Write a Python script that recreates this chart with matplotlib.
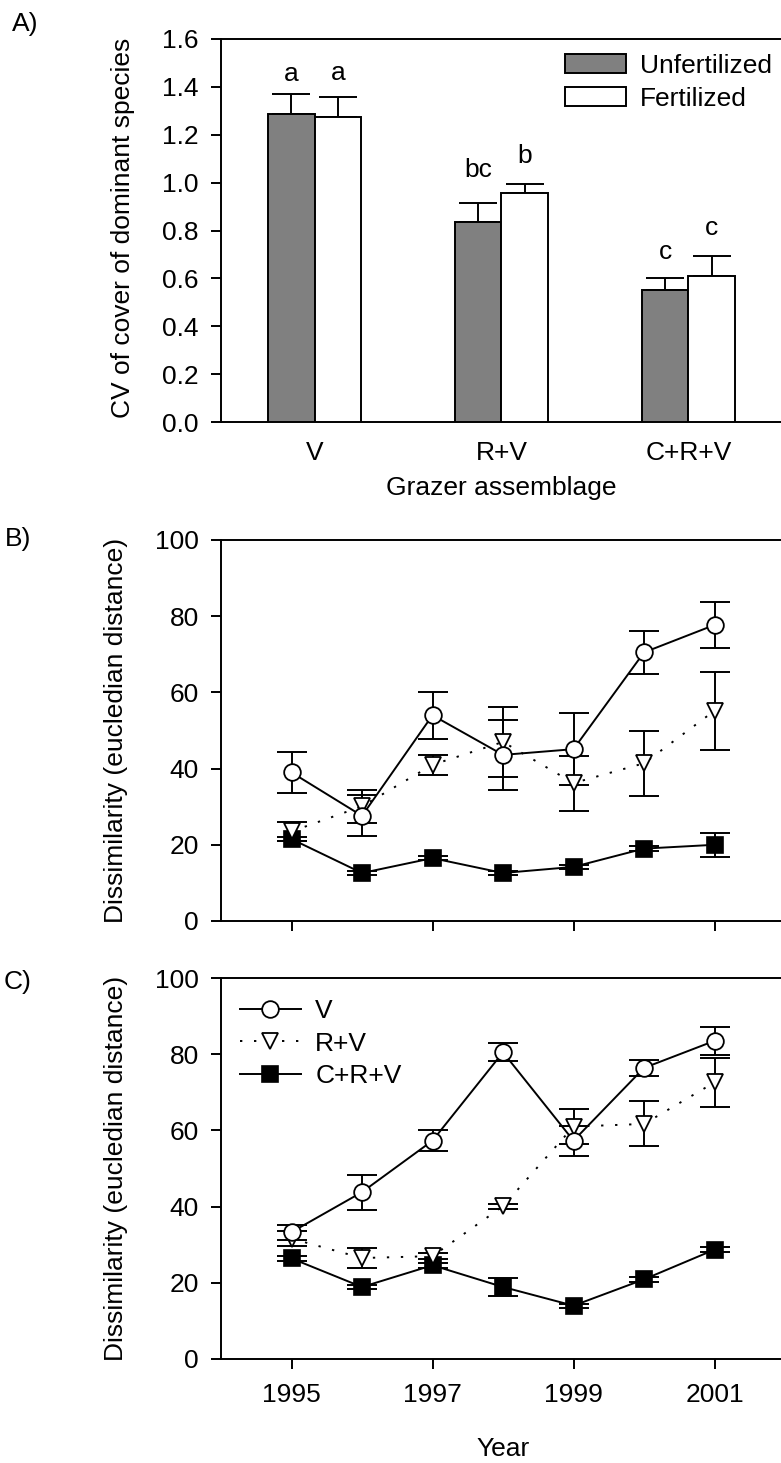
import matplotlib
matplotlib.use("Agg")
import matplotlib.pyplot as plt
import numpy as np
from matplotlib.patches import Patch

FS = 19
plt.rcParams['font.family'] = ['Liberation Sans', 'DejaVu Sans']
plt.rcParams['font.size'] = FS

# ---------------- data ----------------
groups = ["V", "R+V", "C+R+V"]
unfert_mean = [1.287, 0.834, 0.553]
unfert_se = [0.083, 0.079, 0.049]
fert_mean = [1.276, 0.957, 0.612]
fert_se = [0.081, 0.038, 0.083]
unfert_letters = ["a", "bc", "c"]
fert_letters = ["a", "b", "c"]
unfert_letter_y = [1.425, 1.023, 0.681]
fert_letter_y = [1.429, 1.081, 0.782]

years = [1995, 1996, 1997, 1998, 1999, 2000, 2001]

b_V = [39.0, 27.6, 54.0, 43.6, 45.1, 70.5, 77.7]
b_V_se = [5.3, 5.4, 6.2, 9.2, 9.4, 5.7, 6.1]
b_RV = [23.5, 30.1, 41.0, 47.0, 36.2, 41.4, 55.2]
b_RV_se = [2.5, 4.4, 2.7, 9.2, 7.2, 8.5, 10.2]
b_CRV = [21.5, 12.6, 16.5, 12.6, 14.2, 19.0, 20.0]
b_CRV_se = [0.6, 0.5, 0.6, 0.5, 0.6, 0.7, 3.1]

c_V = [33.3, 43.8, 57.3, 80.5, 57.3, 76.4, 83.5]
c_V_se = [2.0, 4.6, 2.8, 2.4, 3.9, 2.0, 3.7]
c_RV = [31.6, 26.5, 27.0, 40.1, 61.0, 61.7, 72.6]
c_RV_se = [2.0, 2.7, 0.8, 0.6, 4.5, 5.9, 6.5]
c_CRV = [26.4, 18.9, 24.6, 18.9, 14.0, 20.9, 28.7]
c_CRV_se = [0.6, 0.6, 0.6, 2.4, 0.5, 0.6, 0.6]

series_names = ["V", "R+V", "C+R+V"]

# ---------------- figure ----------------
W, H = 781, 1463
fig = plt.figure(figsize=(W / 100, H / 100), dpi=100)


def add_axes_px(x0, y0, x1, y1):
    return fig.add_axes([x0 / W, 1 - y1 / H, (x1 - x0) / W, (y1 - y0) / H])


LW = 1.4


def style_axes(ax):
    for s in ['left', 'bottom', 'top']:
        ax.spines[s].set_linewidth(LW)
    ax.spines['right'].set_visible(False)
    ax.tick_params(axis='y', direction='out', length=7, width=LW, pad=9,
                   labelsize=FS)
    ax.tick_params(axis='x', direction='out', length=7, width=LW, labelsize=FS)


# ---------- Panel A ----------
axA = add_axes_px(221, 39, 782, 422)
style_axes(axA)
x = np.arange(len(groups))
bw = 0.25
axA.bar(x - bw / 2, unfert_mean, width=bw, color='#808080', edgecolor='black',
        linewidth=1.4, label='Unfertilized', zorder=3)
axA.bar(x + bw / 2, fert_mean, width=bw, color='white', edgecolor='black',
        linewidth=1.4, label='Fertilized', zorder=3)
axA.errorbar(x - bw / 2, unfert_mean, yerr=[np.zeros(3), unfert_se], fmt='none',
             ecolor='black', elinewidth=1.4, capsize=14, capthick=1.4, zorder=2)
axA.errorbar(x + bw / 2, fert_mean, yerr=[np.zeros(3), fert_se], fmt='none',
             ecolor='black', elinewidth=1.4, capsize=14, capthick=1.4, zorder=2)
for xi, t, yy in zip(x - bw / 2, unfert_letters, unfert_letter_y):
    axA.text(xi, yy, t, ha='center', va='baseline', fontsize=FS)
for xi, t, yy in zip(x + bw / 2, fert_letters, fert_letter_y):
    axA.text(xi, yy, t, ha='center', va='baseline', fontsize=FS)
axA.set_xlim(-0.5, 2.5)
axA.set_ylim(0, 1.6)
axA.set_yticks(np.arange(0, 1.61, 0.2))
axA.set_yticklabels([f"{v:.1f}" for v in np.arange(0, 1.61, 0.2)])
axA.set_xticks(x)
axA.set_xticklabels(groups)
axA.tick_params(axis='x', length=0, pad=14)
axA.legend(handles=[Patch(facecolor='#808080', edgecolor='black', linewidth=1.4, label='Unfertilized'),
                    Patch(facecolor='white', edgecolor='black', linewidth=1.4, label='Fertilized')],
           loc='upper left', bbox_to_anchor=(565 / W, 1 - 54 / H),
           bbox_transform=fig.transFigure, frameon=False, borderpad=0,
           borderaxespad=0, handlelength=2.3, handleheight=0.72,
           handletextpad=0.55, labelspacing=0.33, fontsize=FS)
fig.text(501.5 / W, 1 - 476 / H, "Grazer assemblage", ha='center', va='top', fontsize=FS)
fig.text(123 / W, 1 - 228 / H, "CV of cover of dominant species", rotation=90,
         ha='center', va='center', fontsize=FS)
fig.text(12 / W, 1 - 12 / H, "A)", ha='left', va='top', fontsize=FS)


# ---------- Panels B, C ----------
def line_panel(ax, V, Vse, RV, RVse, CRV, CRVse):
    style_axes(ax)
    for m, s in [(V, Vse), (RV, RVse), (CRV, CRVse)]:
        ax.errorbar(years, m, yerr=s, fmt='none', ecolor='black', elinewidth=1.4,
                    capsize=10.5, capthick=1.4, zorder=2)
    ax.plot(years, CRV, color='black', lw=1.4, marker='s', ms=11.5, mfc='black',
            mec='black', mew=1.2, zorder=3, label=series_names[2])
    ax.plot(years, RV, color='black', lw=1.4, ls=(0, (1.2, 6)), marker='v', ms=11.5,
            mfc='white', mec='black', mew=1.3, zorder=4, label=series_names[1])
    ax.plot(years, V, color='black', lw=1.4, marker='o', ms=12, mfc='white',
            mec='black', mew=1.3, zorder=5, label=series_names[0])
    ax.set_xlim(1994, 2002)
    ax.set_ylim(0, 100)
    ax.set_yticks(np.arange(0, 101, 20))
    ax.set_xticks([1995, 1997, 1999, 2001])


axB = add_axes_px(221, 540, 785, 921)
line_panel(axB, b_V, b_V_se, b_RV, b_RV_se, b_CRV, b_CRV_se)
axB.set_xticklabels([])
fig.text(116.5 / W, 1 - 730 / H, "Dissimilarity (eucledian distance)", rotation=90,
         ha='center', va='center', fontsize=FS)
fig.text(5 / W, 1 - 527 / H, "B)", ha='left', va='top', fontsize=FS)

axC = add_axes_px(221, 978, 785, 1359)
line_panel(axC, c_V, c_V_se, c_RV, c_RV_se, c_CRV, c_CRV_se)
axC.tick_params(axis='x', pad=10)
h, l = axC.get_legend_handles_labels()
order = [l.index(n) for n in series_names]
axC.legend([h[i] for i in order], [l[i] for i in order], loc='upper left',
           bbox_to_anchor=(240 / W, 1 - 999 / H), bbox_transform=fig.transFigure,
           frameon=False, borderpad=0, borderaxespad=0, handlelength=2.3,
           handletextpad=0.55, labelspacing=0.33, fontsize=FS, numpoints=1)
fig.text(116.5 / W, 1 - 1168.5 / H, "Dissimilarity (eucledian distance)", rotation=90,
         ha='center', va='center', fontsize=FS)
fig.text(503 / W, 1 - 1437 / H, "Year", ha='center', va='top', fontsize=FS)
fig.text(4 / W, 1 - 970 / H, "C)", ha='left', va='top', fontsize=FS)

fig.savefig("out.png", dpi=100)
